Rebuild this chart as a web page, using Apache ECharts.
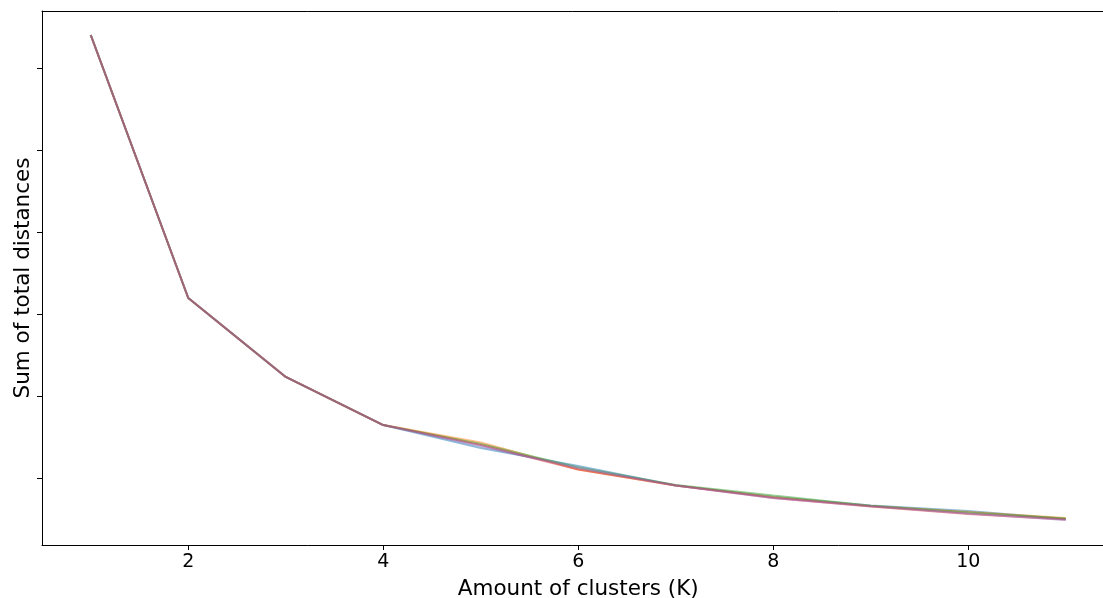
<!DOCTYPE html>
<html>
<head>
<meta charset="utf-8">
<script src="https://cdn.jsdelivr.net/npm/echarts@6/dist/echarts.min.js"></script>
<style>
html,body{margin:0;padding:0;background:#fff;}
#chart{width:1103px;height:598px;}
</style>
</head>
<body>
<div id="chart"></div>
<script>
// K values
const clusters = [1, 2, 3, 4, 5, 6, 7, 8, 9, 10, 11];
// Sum of total distances per run (arbitrary units; y tick labels hidden in original)
const run1 = [640.2, 319.5, 223.2, 164.6, 136.6, 114.6, 90.9, 76.8, 66.5, 59.8, 50.0];
const run2 = [640.2, 319.5, 223.2, 164.6, 143.3, 110.4, 90.9, 76.8, 65.9, 58.5, 51.2];
const run3 = [640.2, 319.5, 223.2, 164.6, 141.5, 112.8, 91.5, 78.7, 66.1, 57.9, 50.6];
const run4 = [640.2, 319.5, 223.2, 164.6, 140.2, 110.4, 90.9, 75.6, 65.2, 56.1, 49.4];
const run5 = [640.2, 319.5, 223.2, 164.6, 139.0, 112.2, 90.9, 75.6, 65.5, 56.7, 48.8];
const runs = [run1, run2, run3, run4, run5];
const colors = ['#1f77b4', '#ff7f0e', '#2ca02c', '#d62728', '#9467bd'];
const xTicks = [2, 4, 6, 8, 10];
const yTicks = [100, 200, 300, 400, 500, 600];

const chart = echarts.init(document.getElementById('chart'), null, {renderer: 'canvas'});
const font = 'DejaVu Sans';
const axisCol = '#000';
chart.setOption({
  animation: false,
  backgroundColor: '#fff',
  grid: {left: 42, top: 11, width: 1072.5, height: 534, show: false, containLabel: false, outerBoundsMode: 'none'},
  xAxis: [{
    type: 'value', min: 0.5, max: 11.5, position: 'bottom',
    name: 'Amount of clusters (K)', nameLocation: 'middle', nameGap: 33,
    nameTextStyle: {fontFamily: font, fontSize: 21.5, color: '#000'},
    axisLine: {show: true, onZero: false, lineStyle: {color: axisCol, width: 1}},
    splitLine: {show: false},
    axisTick: {show: true, customValues: xTicks, length: 5, lineStyle: {color: axisCol}},
    axisLabel: {customValues: xTicks, fontFamily: font, fontSize: 19, color: '#000', margin: 8}
  }, {
    type: 'value', min: 0.5, max: 11.5, position: 'top',
    axisLine: {show: true, onZero: false, lineStyle: {color: axisCol, width: 1}},
    splitLine: {show: false}, axisTick: {show: false}, axisLabel: {show: false}
  }],
  yAxis: {
    type: 'value', min: 18.3, max: 669.5,
    name: 'Sum of total distances', nameLocation: 'middle', nameGap: 8,
    nameTextStyle: {fontFamily: font, fontSize: 21.5, color: '#000'},
    axisLine: {show: true, onZero: false, lineStyle: {color: axisCol, width: 1}},
    splitLine: {show: false},
    axisTick: {show: true, customValues: yTicks, length: 5, lineStyle: {color: axisCol}},
    axisLabel: {show: false}
  },
  series: runs.map((r, i) => ({
    type: 'line',
    xAxisIndex: 0,
    data: clusters.map((k, j) => [k, r[j]]),
    showSymbol: false,
    lineStyle: {width: 2, color: colors[i], opacity: 0.5},
    itemStyle: {color: colors[i]},
    z: 2 + i
  }))
});
</script>
</body>
</html>
